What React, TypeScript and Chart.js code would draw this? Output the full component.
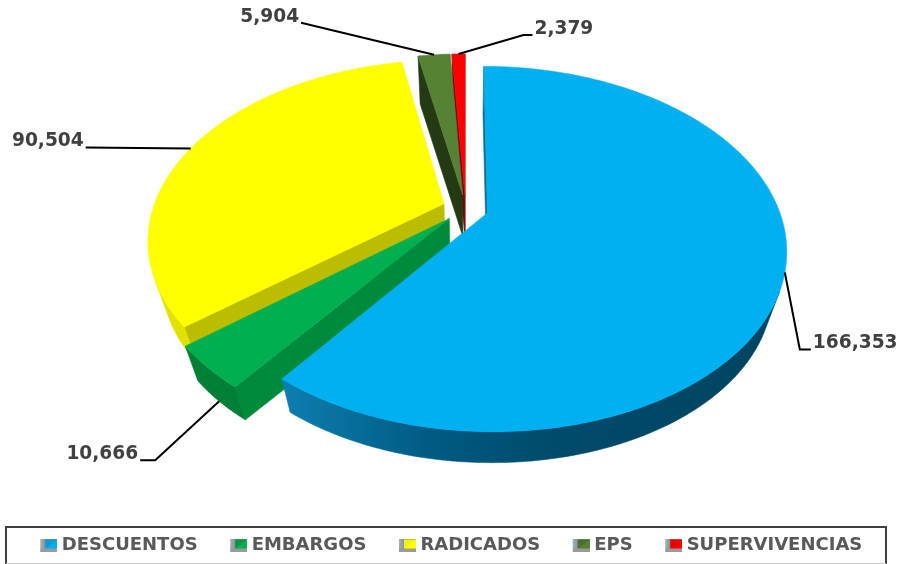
import React, { useEffect, useRef } from "react";
import { Chart, registerables } from "chart.js";

Chart.register(...registerables);

const categories = ["DESCUENTOS", "EMBARGOS", "RADICADOS", "EPS", "SUPERVIVENCIAS"];
const values = [166353, 10666, 90504, 5904, 2379];
const topColors = ["#00B0F0", "#00B050", "#FFFF00", "#558235", "#FF0000"];
const cutColors = ["#0A6E99", "#008A3C", "#BDBD00", "#243A12", "#7A0000"];
const rimColors = ["#00506F", "#007F36", "#E2E200", "#2F4A1C", "#8E0000"];
const legendShade = ["#1C7FB5", "#007A36", "#E6E600", "#3A5A22", "#D00000"];
const sliceOffsets = [69, 69, 69, 69, 69];

// leader-line elbows (relative to the slice's mid-angle anchor), and label side
const leaderElbows: number[][][] = [
  [[15, 77], [26, 77]],
  [[-64, 59], [-79, 59]],
  [[-105, -1]],
  [[-133, -32]],
  [[65, -19], [74, -19]],
];
const leaderAlign = ["left", "right", "right", "right", "left"];
const leaderFromBase = [false, true, false, false, false];

const view = { shiftX: 15, shiftY: -44, kx: 1.335, ky: 0.797, persp: 0.197, base: 0.955, depth: 41 };
const FONT = "DejaVu Sans";

type P = { x: number; y: number };

function geometry(chart: any, el: any) {
  const R = el.outerRadius;
  const cx = el.x + view.shiftX;
  const cy = el.y + view.shiftY;
  const Rx = R * view.kx;
  const Ry = R * view.ky;
  const ex = (el.options.offset / 4) / R;
  const mid = (el.startAngle + el.endAngle) / 2;
  const ox = Math.cos(mid) * ex;
  const oy = Math.sin(mid) * ex;
  const proj = (u: number, v: number): P => {
    const w = 1 - view.persp * v;
    return { x: cx + (Rx * u) / w, y: cy + (Ry * v) / w };
  };
  const base = (p: P): P => ({
    x: cx + (p.x - cx) * view.base,
    y: cy + (p.y - cy) * view.base + view.depth,
  });
  const tip = proj(ox, oy);
  const rim = (a: number) => proj(ox + Math.cos(a), oy + Math.sin(a));
  return { tip, rim, base, mid };
}

function area(pts: P[]) {
  let s = 0;
  pts.forEach((p, i) => {
    const q = pts[(i + 1) % pts.length];
    s += p.x * q.y - q.x * p.y;
  });
  return s;
}

function poly(ctx: CanvasRenderingContext2D, pts: P[], fill: any) {
  ctx.beginPath();
  pts.forEach((p, i) => (i ? ctx.lineTo(p.x, p.y) : ctx.moveTo(p.x, p.y)));
  ctx.closePath();
  ctx.fillStyle = fill;
  ctx.fill();
  ctx.strokeStyle = fill;
  ctx.lineWidth = 0.6;
  ctx.stroke();
}

const pie3d = {
  id: "pie3d",
  beforeDatasetDraw(chart: any) {
    const ctx: CanvasRenderingContext2D = chart.ctx;
    const arcs = chart.getDatasetMeta(0).data;
    ctx.save();
    ctx.lineJoin = "round";
    for (let i = arcs.length - 1; i >= 0; i--) {
      const el = arcs[i];
      const g = geometry(chart, el);
      const n = Math.max(8, Math.ceil((el.endAngle - el.startAngle) * 60));
      const top: P[] = [];
      for (let k = 0; k <= n; k++) top.push(g.rim(el.startAngle + ((el.endAngle - el.startAngle) * k) / n));
      const ring = [g.tip, ...top];
      let rimFill: any = rimColors[i];
      if (i === 0) {
        const gr = ctx.createLinearGradient(280, 0, 790, 0);
        gr.addColorStop(0, "#0C7FB0");
        gr.addColorStop(0.3, "#005A82");
        gr.addColorStop(0.55, "#004A69");
        gr.addColorStop(1, "#004560");
        rimFill = gr;
      }
      // cut faces first, then the curved rim, then the top
      const cutA = [ring[0], ring[1], g.base(ring[1]), g.base(ring[0])];
      const cutB = [ring[ring.length - 1], ring[0], g.base(ring[0]), g.base(ring[ring.length - 1])];
      if (area(cutA) < 0) poly(ctx, cutA, cutColors[i]);
      if (area(cutB) < 0) poly(ctx, cutB, cutColors[i]);
      let run: P[] = [];
      const flush = () => {
        if (run.length > 1) poly(ctx, [...run, ...run.slice().reverse().map(g.base)], rimFill);
        run = [];
      };
      for (let k = 0; k < n; k++) {
        const q = [top[k], top[k + 1], g.base(top[k + 1]), g.base(top[k])];
        if (area(q) < 0) {
          if (!run.length) run.push(top[k]);
          run.push(top[k + 1]);
        } else flush();
      }
      flush();
      poly(ctx, ring, topColors[i]);
    }
    ctx.restore();
    return false;
  },
  afterDraw(chart: any) {
    const ctx: CanvasRenderingContext2D = chart.ctx;
    const arcs = chart.getDatasetMeta(0).data;
    ctx.save();
    arcs.forEach((el: any, i: number) => {
      const g = geometry(chart, el);
      let a = g.rim(g.mid);
      if (leaderFromBase[i]) a = g.base(a);
      const pts = [a, ...leaderElbows[i].map(([dx, dy]) => ({ x: a.x + dx, y: a.y + dy }))];
      ctx.beginPath();
      pts.forEach((p, k) => (k ? ctx.lineTo(p.x, p.y) : ctx.moveTo(p.x, p.y)));
      ctx.strokeStyle = "#000000";
      ctx.lineWidth = 2;
      ctx.lineJoin = "miter";
      ctx.stroke();
      const end = pts[pts.length - 1];
      ctx.font = `bold 18.6px "${FONT}"`;
      ctx.fillStyle = "#404040";
      ctx.textBaseline = "middle";
      ctx.textAlign = leaderAlign[i] as CanvasTextAlign;
      const gap = leaderAlign[i] === "left" ? 2 : -2;
      ctx.fillText(values[i].toLocaleString("en-US"), end.x + gap, end.y - 6);
    });
    // frame round the legend
    ctx.strokeStyle = "#404040";
    ctx.lineWidth = 2;
    ctx.beginPath();
    ctx.moveTo(6, 564);
    ctx.lineTo(6, 527);
    ctx.lineTo(886, 527);
    ctx.lineTo(886, 564);
    ctx.stroke();
    ctx.strokeStyle = "#C8C8C8";
    ctx.lineWidth = 1;
    ctx.beginPath();
    ctx.moveTo(6, 563.5);
    ctx.lineTo(886, 563.5);
    ctx.stroke();
    ctx.restore();
  },
};

function marker(i: number) {
  const c = document.createElement("canvas");
  c.width = 23;
  c.height = 13;
  const x = c.getContext("2d")!;
  x.translate(6, 0);
  const g = x.createLinearGradient(0, 0, 6, 0);
  g.addColorStop(0, "#A9B4BC");
  g.addColorStop(1, "#7E8A92");
  x.fillStyle = g;
  x.fillRect(0, 0, 17, 13);
  x.fillStyle = "#9A9A9A";
  x.fillRect(0, 10, 17, 3);
  x.fillStyle = topColors[i];
  x.fillRect(5, 1, 12, 9);
  x.fillStyle = legendShade[i];
  x.beginPath();
  x.moveTo(5, 10);
  x.lineTo(17, 1);
  x.lineTo(5, 1);
  x.closePath();
  x.globalAlpha = 0.45;
  x.fill();
  return c;
}

export default function App() {
  const ref = useRef<HTMLCanvasElement>(null);
  useEffect(() => {
    document.body.style.margin = "0";
    const chart = new Chart(ref.current!, {
      type: "pie",
      data: {
        labels: categories,
        datasets: [
          {
            data: values,
            backgroundColor: topColors,
            borderWidth: 0,
            offset: sliceOffsets,
          },
        ],
      },
      options: {
        responsive: false,
        animation: false,
        layout: { padding: 0 },
        plugins: {
          tooltip: { enabled: false },
          legend: {
            position: "bottom",
            labels: {
              font: { family: FONT, weight: "bold", size: 18 },
              color: "#595959",
              usePointStyle: true,
              pointStyleWidth: 14,
              padding: 31,
              generateLabels(ch: any) {
                const base = (Chart as any).overrides.pie.plugins.legend.labels.generateLabels(ch);
                return base.map((it: any, i: number) => ({ ...it, pointStyle: marker(i), lineWidth: 0 }));
              },
            },
          },
        },
      } as any,
      plugins: [pie3d as any],
    });
    return () => chart.destroy();
  }, []);
  return <canvas ref={ref} width={901} height={564} style={{ display: "block" }} />;
}
